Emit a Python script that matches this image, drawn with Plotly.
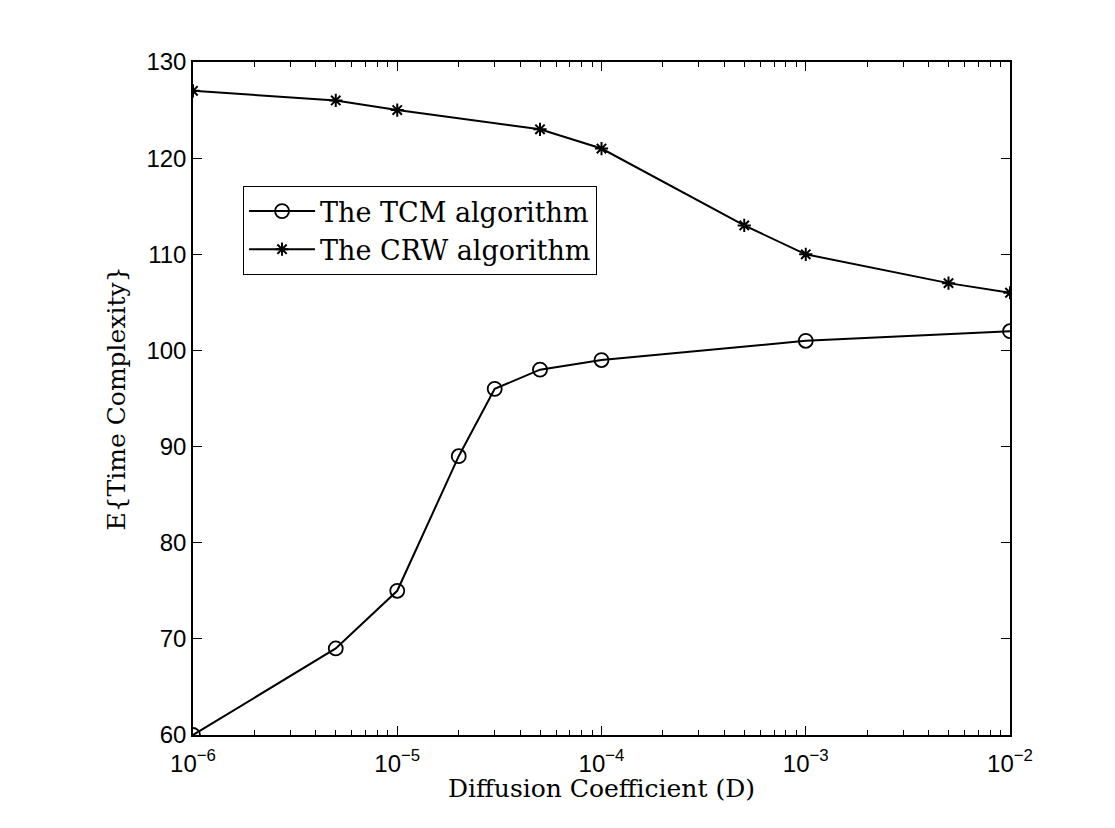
import plotly.graph_objects as go

tcm_x = [1e-6, 5e-6, 1e-5, 2e-5, 3e-5, 5e-5, 1e-4, 1e-3, 1e-2]
tcm_y = [60, 69, 75, 89, 96, 98, 99, 101, 102]
crw_x = [1e-6, 5e-6, 1e-5, 5e-5, 1e-4, 5e-4, 1e-3, 5e-3, 1e-2]
crw_y = [127, 126, 125, 123, 121, 113, 110, 107, 106]

x_tickvals = [1e-6, 1e-5, 1e-4, 1e-3, 1e-2]
x_ticktext = ["10<sup>−6</sup>", "10<sup>−5</sup>", "10<sup>−4</sup>", "10<sup>−3</sup>", "10<sup>−2</sup>"]
y_tickvals = [60, 70, 80, 90, 100, 110, 120, 130]

serif = "DejaVu Serif, Liberation Serif, serif"
sans = "Liberation Sans, Arial, sans-serif"

fig = go.Figure()
fig.add_trace(go.Scatter(
    x=tcm_x, y=tcm_y, mode="lines+markers", name="The TCM algorithm",
    line=dict(color="black", width=2),
    marker=dict(symbol="circle-open", size=14, color="black", line=dict(width=1.8, color="black")),
))
fig.add_trace(go.Scatter(
    x=crw_x, y=crw_y, mode="lines+markers", name="The CRW algorithm",
    line=dict(color="black", width=2),
    marker=dict(symbol="asterisk-open", size=11, color="black", line=dict(width=2, color="black")),
))

fig.update_layout(
    width=1115, height=828,
    margin=dict(l=193, r=105, t=62, b=93),
    plot_bgcolor="white", paper_bgcolor="white",
    showlegend=True,
    legend=dict(
        x=0.061, y=0.816, xanchor="left", yanchor="top",
        bgcolor="white", bordercolor="black", borderwidth=1.2,
        font=dict(family=serif, size=27, color="black"),
        tracegroupgap=0, itemwidth=66,
    ),
    font=dict(family=sans, color="black"),
    annotations=[dict(
        text="Diffusion Coefficient (D)", xref="paper", yref="paper",
        x=0.5, y=-0.079, xanchor="center", yanchor="middle", showarrow=False,
        font=dict(family=serif, size=25, color="black"),
    )],
)

fig.update_xaxes(
    type="log", range=[-6, -2],
    tickvals=x_tickvals, ticktext=x_ticktext,
    ticks="inside", ticklen=9, tickwidth=1.2, tickcolor="black",
    minor=dict(ticks="inside", ticklen=5, tickwidth=1, tickcolor="black", dtick="D1", showgrid=False),
    showline=True, linecolor="black", linewidth=1.5, mirror="ticks",
    showgrid=False, zeroline=False, ticklabelstandoff=6,
    tickfont=dict(family=sans, size=24, color="black"),
)
fig.update_yaxes(
    range=[60, 130], tickvals=y_tickvals,
    ticks="inside", ticklen=9, tickwidth=1.2, tickcolor="black",
    showline=True, linecolor="black", linewidth=1.5, mirror="ticks",
    showgrid=False, zeroline=False,
    tickfont=dict(family=sans, size=24, color="black"),
    title=dict(text="E{Time Complexity}", font=dict(family=serif, size=25, color="black"), standoff=14),
)

fig.write_html("out.html")
